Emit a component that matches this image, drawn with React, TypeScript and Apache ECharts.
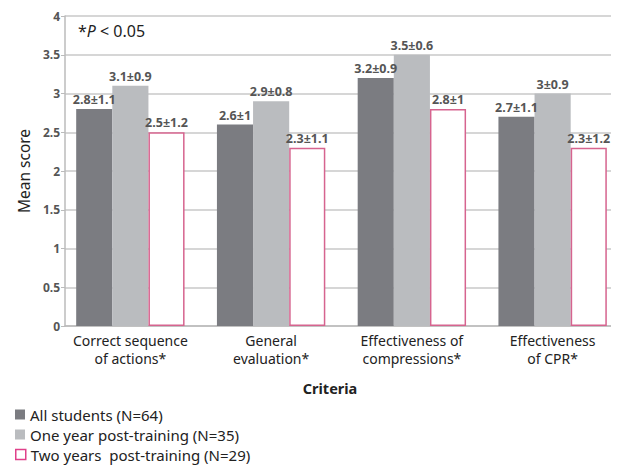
import React, { useEffect, useRef } from "react";
import * as echarts from "echarts";

const categories = [
  "Correct sequence\nof actions*",
  "General\nevaluation*",
  "Effectiveness of\ncompressions*",
  "Effectiveness\nof CPR*",
];
const seriesNames = [
  "All students (N=64)",
  "One year post-training (N=35)",
  "Two years  post-training (N=29)",
];
const allStudents = [2.8, 2.6, 3.2, 2.7];
const allStudentsSD = [1.1, 1, 0.9, 1.1];
const oneYear = [3.1, 2.9, 3.5, 3.0];
const oneYearSD = [0.9, 0.8, 0.6, 0.9];
const twoYears = [2.5, 2.3, 2.8, 2.3];
const twoYearsSD = [1.2, 1.1, 1, 1.2];
const yTicks = [0, 0.5, 1, 1.5, 2, 2.5, 3, 3.5, 4];

const FONT = "Noto Sans";
const seriesColors = ["#7b7c81", "#babcbf", "#ffffff"];
const pinkBorder = "#d6648f";

export default function App() {
  const ref = useRef<HTMLDivElement>(null);
  useEffect(() => {
    if (!ref.current) return;
    const chart = echarts.init(ref.current, null, { renderer: "svg" });
    const labelFor = (sd: number[]) => ({
      show: true,
      position: "top",
      distance: 3,
      fontFamily: FONT,
      fontSize: 12.5,
      fontWeight: "bold",
      color: "#555",
      formatter: (p: any) => `${p.value}±${sd[p.dataIndex]}`,
    });
    const legendTops = [399, 419, 439];
    const legends = seriesNames.map((name, i) => ({
      orient: "vertical",
      left: 7,
      top: legendTops[i],
      padding: 0,
      itemWidth: 10,
      itemHeight: 10,
      textStyle: { fontFamily: FONT, fontSize: 15, color: "#222" },
      data: [
        i === 2
          ? {
              name,
              icon: "rect",
              itemStyle: { color: "#fff", borderColor: "#e0408a", borderWidth: 1.5 },
            }
          : { name, icon: "rect" },
      ],
    }));
    chart.setOption({
      animation: false,
      backgroundColor: "#fff",
      grid: [
        { left: 46, right: -3, top: 8, bottom: 147 },
        { left: 52, right: 4, top: 8, bottom: 147 },
      ],
      xAxis: [
        {
          gridIndex: 0,
          type: "category",
          data: categories,
          axisLine: { show: true, lineStyle: { color: "#bbb", width: 1.5 } },
          axisTick: { show: false },
          axisLabel: { show: false },
          splitLine: { show: false },
        },
        {
          gridIndex: 1,
          type: "category",
          data: categories,
          axisLine: { show: false },
          axisTick: { show: false },
          axisLabel: {
            fontFamily: FONT,
            fontSize: 14,
            lineHeight: 17.5,
            color: "#222",
            margin: 6,
            interval: 0,
          },
        },
      ],
      yAxis: [
        {
          gridIndex: 0,
          type: "value",
          min: 0,
          max: 4,
          interval: 0.5,
          name: "Mean score",
          nameLocation: "middle",
          nameGap: 28,
          nameTextStyle: { fontFamily: FONT, fontSize: 15.5, color: "#222" },
          axisLine: { show: true, lineStyle: { color: "#bbb", width: 1.5 } },
          axisTick: { show: true, length: 4, lineStyle: { color: "#bbb" } },
          axisLabel: {
            fontFamily: FONT,
            fontSize: 12,
            fontWeight: "bold",
            color: "#555",
            margin: 5,
            formatter: (v: number) => (yTicks.includes(v) ? String(v) : ""),
          },
          splitLine: { show: true, lineStyle: { color: "#c8c8c8", width: 1.5 } },
        },
        {
          gridIndex: 1,
          type: "value",
          min: 0,
          max: 4,
          interval: 0.5,
          axisLine: { show: false },
          axisTick: { show: false },
          axisLabel: { show: false },
          splitLine: { show: false },
        },
      ],
      legend: legends,
      graphic: [
        {
          type: "text",
          left: 70,
          top: 15,
          style: {
            text: "{s|*}{p|P}{s| < 0.05}",
            rich: {
              s: { fontFamily: FONT, fontSize: 16, fill: "#222" },
              p: { fontFamily: FONT, fontSize: 16, fontStyle: "italic", fill: "#222" },
            },
          },
        },
        {
          type: "text",
          x: 322,
          y: 380,
          style: {
            text: "Criteria",
            fontFamily: FONT,
            fontSize: 14.5,
            fontWeight: "bold",
            fill: "#222",
            align: "center",
            verticalAlign: "middle",
          },
        },
      ],
      series: [
        {
          name: seriesNames[0],
          type: "bar",
          xAxisIndex: 1,
          yAxisIndex: 1,
          data: allStudents,
          barGap: "0%",
          barCategoryGap: "23%",
          itemStyle: { color: seriesColors[0] },
          label: labelFor(allStudentsSD),
        },
        {
          name: seriesNames[1],
          type: "bar",
          xAxisIndex: 1,
          yAxisIndex: 1,
          data: oneYear,
          barGap: "0%",
          barCategoryGap: "23%",
          itemStyle: { color: seriesColors[1] },
          label: labelFor(oneYearSD),
        },
        {
          name: seriesNames[2],
          type: "bar",
          xAxisIndex: 1,
          yAxisIndex: 1,
          data: twoYears,
          barGap: "0%",
          barCategoryGap: "23%",
          itemStyle: { color: seriesColors[2], borderColor: pinkBorder, borderWidth: 1.5 },
          label: labelFor(twoYearsSD),
        },
      ],
    });
    return () => chart.dispose();
  }, []);
  return <div ref={ref} style={{ width: 619, height: 465 }} />;
}
